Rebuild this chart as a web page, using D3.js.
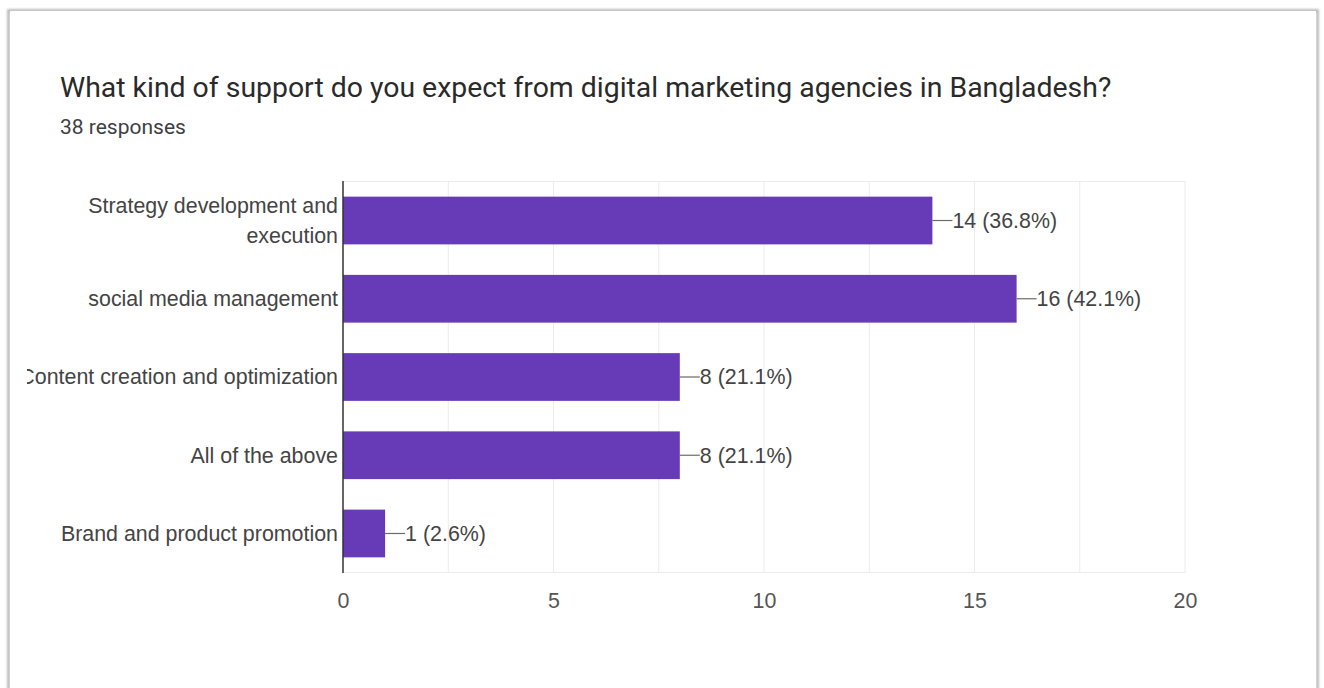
<!DOCTYPE html>
<html>
<head>
<meta charset="utf-8">
<script src="https://cdn.jsdelivr.net/npm/d3@7"></script>
<style>
  html, body { margin: 0; padding: 0; background: #fff; }
  svg { display: block; }
</style>
</head>
<body>
<svg id="chart" width="1324" height="688"></svg>
<script>
// Survey answers and counts
const categories = [
  "Strategy development and|execution",
  "social media management",
  "Content creation and optimization",
  "All of the above",
  "Brand and product promotion"
];
const counts = [14, 16, 8, 8, 1];
const totalResponses = 38;
const xTicks = [0, 5, 10, 15, 20];
const gridValues = [2.5, 5, 7.5, 10, 12.5, 15, 17.5, 20];

const titleText = "What kind of support do you expect from digital marketing agencies in Bangladesh?";
const subtitleText = totalResponses + " responses";

const svg = d3.select("#chart");
const W = 1324, H = 688;

// Card background with soft edges
const defs = svg.append("defs");
const blur = defs.append("filter").attr("id", "soft").attr("x", "-5%").attr("y", "-5%").attr("width", "110%").attr("height", "110%");
blur.append("feGaussianBlur").attr("stdDeviation", 1.2);

svg.append("rect").attr("width", W).attr("height", H).attr("fill", "#fff");
svg.append("rect")
  .attr("x", 8.5).attr("y", 10.5).attr("width", 1309).attr("height", 700)
  .attr("fill", "none").attr("stroke", "#b0b0b0").attr("stroke-width", 2.5)
  .attr("filter", "url(#soft)");
svg.append("rect")
  .attr("x", 10).attr("y", 11).attr("width", 1306).attr("height", 700)
  .attr("fill", "#fff");

// Title and response count
svg.append("text")
  .attr("x", 60).attr("y", 97)
  .attr("font-family", "Roboto, Arial, sans-serif")
  .attr("font-size", 28.4)
  .attr("fill", "#2a2a2a")
  .text(titleText);
svg.append("text")
  .attr("x", 60).attr("y", 134)
  .attr("font-family", "Roboto, Arial, sans-serif")
  .attr("font-size", 21)
  .attr("fill", "#3c4043")
  .text(subtitleText);

// Plot area
const plot = { left: 343, right: 1185, top: 181, bottom: 573 };

const x = d3.scaleLinear().domain([0, 20]).range([plot.left, plot.right]);
const y = d3.scaleBand().domain(categories).range([plot.top, plot.bottom]).paddingInner(0.39).paddingOuter(0.2);

const clip = defs.append("clipPath").attr("id", "cardClip");
clip.append("rect").attr("x", 27).attr("y", 0).attr("width", W - 27).attr("height", H);

const g = svg.append("g").attr("clip-path", "url(#cardClip)");

const labelFont = "Arial, 'Liberation Sans', sans-serif";
const labelSize = 21.4;

// Grid lines
g.append("g").selectAll("line").data(gridValues).join("line")
  .attr("x1", d => x(d)).attr("x2", d => x(d))
  .attr("y1", plot.top).attr("y2", plot.bottom)
  .attr("stroke", "#ececec").attr("stroke-width", 1);
g.append("line")
  .attr("x1", plot.left).attr("x2", plot.right)
  .attr("y1", plot.top + 0.5).attr("y2", plot.top + 0.5)
  .attr("stroke", "#ececec");
g.append("line")
  .attr("x1", plot.left).attr("x2", plot.right)
  .attr("y1", plot.bottom - 0.5).attr("y2", plot.bottom - 0.5)
  .attr("stroke", "#ececec");

// Bars
g.append("g").selectAll("rect").data(categories).join("rect")
  .attr("x", x(0))
  .attr("y", d => y(d))
  .attr("width", (d, i) => x(counts[i]) - x(0))
  .attr("height", y.bandwidth())
  .attr("fill", "#673ab7");

// Value leader lines and labels
const fmtPct = v => (v / totalResponses * 100).toFixed(1) + "%";
const vl = g.append("g").selectAll("g").data(categories).join("g");
vl.append("line")
  .attr("x1", (d, i) => x(counts[i]))
  .attr("x2", (d, i) => x(counts[i]) + 20)
  .attr("y1", d => y(d) + y.bandwidth() / 2)
  .attr("y2", d => y(d) + y.bandwidth() / 2)
  .attr("stroke", "#6a6a6a").attr("stroke-width", 1.2);
vl.append("text")
  .attr("x", (d, i) => x(counts[i]) + 20)
  .attr("y", d => y(d) + y.bandwidth() / 2)
  .attr("dy", "0.35em")
  .attr("font-family", labelFont)
  .attr("font-size", labelSize)
  .attr("fill", "#444")
  .text((d, i) => counts[i] + " (" + fmtPct(counts[i]) + ")");

// Category axis labels
const cat = g.append("g").selectAll("text").data(categories).join("text")
  .attr("text-anchor", "end")
  .attr("font-family", labelFont)
  .attr("font-size", labelSize)
  .attr("fill", "#444");
cat.each(function(d) {
  const lines = d.split("|");
  const cy = y(d) + y.bandwidth() / 2;
  const lh = 30;
  const t = d3.select(this);
  lines.forEach((ln, k) => {
    t.append("tspan")
      .attr("x", plot.left - 5)
      .attr("y", cy + (k - (lines.length - 1) / 2) * lh)
      .attr("dy", "0.35em")
      .text(ln);
  });
});

// Vertical baseline
g.append("line")
  .attr("x1", x(0)).attr("x2", x(0))
  .attr("y1", plot.top).attr("y2", plot.bottom)
  .attr("stroke", "#333").attr("stroke-width", 1.5);

// Numeric x-axis labels
const xAxis = d3.axisBottom(x).tickValues(xTicks).tickSize(0).tickPadding(20);
const ax = svg.append("g").attr("transform", `translate(0,${plot.bottom})`).call(xAxis);
ax.select(".domain").remove();
ax.selectAll("text")
  .attr("font-family", labelFont)
  .attr("font-size", labelSize)
  .attr("fill", "#555");
</script>
</body>
</html>
